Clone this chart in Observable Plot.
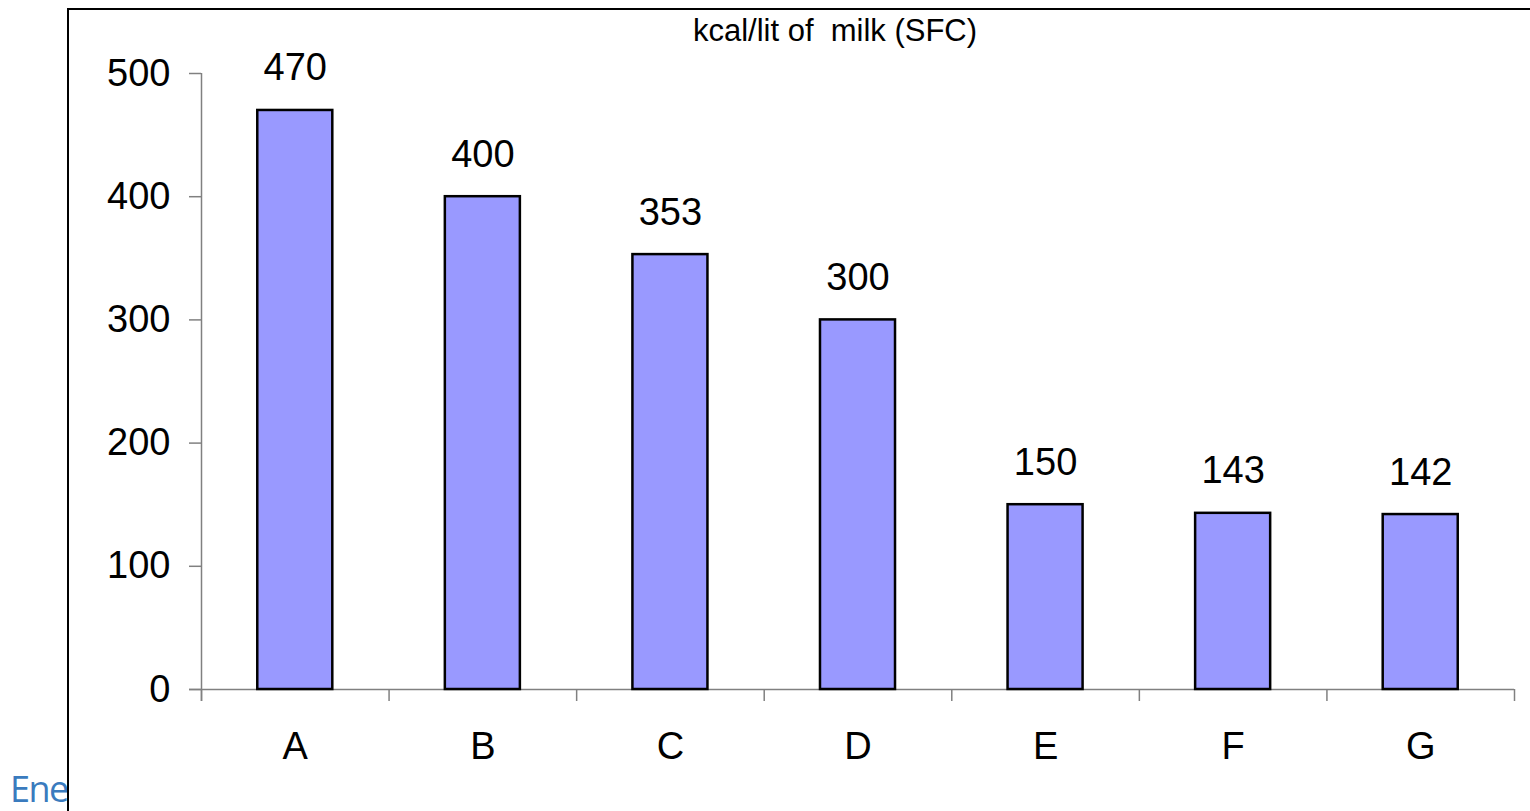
<!DOCTYPE html>
<html>
<head>
<meta charset="utf-8">
<script src="https://cdn.jsdelivr.net/npm/d3@7"></script>
<script src="https://cdn.jsdelivr.net/npm/@observablehq/plot@0.6"></script>
<style>
  html, body { margin: 0; padding: 0; background: #fff; overflow: hidden; }
  #wrap { position: relative; width: 1530px; height: 811px; font-family: "Liberation Sans", Arial, sans-serif; }
  #frame { position: absolute; left: 67px; top: 8px; width: 1470px; height: 820px; border-top: 2px solid #000; border-left: 2px solid #000; box-sizing: border-box; pointer-events: none; }
  #title { position: absolute; left: 835px; top: 13px; transform: translateX(-50%); font-size: 31px; white-space: pre; color: #000; }
  #ene { position: absolute; left: 10px; top: 764px; font-family: "Open Sans", "Noto Sans", sans-serif; font-size: 36px; color: #3A7BBE; white-space: nowrap; letter-spacing: -1.5px; }
  #chart { position: absolute; left: 0; top: 0; }
</style>
</head>
<body>
<div id="wrap">
  <div id="chart"></div>
  <div id="ene">Ene</div>
  <div id="frame"></div>
  <div id="title">kcal/lit of  milk (SFC)</div>
</div>
<script>
const categories = ["A", "B", "C", "D", "E", "F", "G"];
const values = [470, 400, 353, 300, 150, 143, 142];
const yTicks = [0, 100, 200, 300, 400, 500];

const data = categories.map((c, i) => ({cat: c, i, value: values[i]}));
const boundaries = d3.range(categories.length + 1);

const axisColor = "#808080";

const chart = Plot.plot({
  width: 1530,
  height: 811,
  marginLeft: 201,
  marginRight: 16,
  marginTop: 73,
  marginBottom: 122,
  style: {fontFamily: "'Liberation Sans', Arial, sans-serif", background: "transparent", overflow: "visible"},
  x: {type: "linear", domain: [0, categories.length], axis: null},
  y: {domain: [0, 500], axis: null},
  marks: [
    Plot.rect(data, {x1: d => d.i + 0.3, x2: d => d.i + 0.7, y1: 0, y2: "value", fill: "#9999FF"}),
    // axis lines
    Plot.ruleX([0], {y1: 500, y2: 0, stroke: axisColor, strokeWidth: 1.5, insetBottom: -12}),
    Plot.ruleY([0], {x1: 0, x2: categories.length, stroke: axisColor, strokeWidth: 1.5, insetLeft: -12}),
    // y ticks
    Plot.ruleY(yTicks, {y: d => d, x1: 0, x2: 0, insetLeft: -12, stroke: axisColor, strokeWidth: 1.5}),
    Plot.text(yTicks, {x: 0, y: d => d, text: d => String(d), textAnchor: "end", dx: -31, fontSize: 38, fill: "#000"}),
    // x boundary ticks
    Plot.ruleX(boundaries, {x: d => d, y1: 0, y2: 0, insetBottom: -12, stroke: axisColor, strokeWidth: 1.5}),
    // bar outlines on top
    Plot.rect(data, {x1: d => d.i + 0.3, x2: d => d.i + 0.7, y1: 0, y2: "value", fill: "none", stroke: "#000", strokeWidth: 2.5}),
    // category labels
    Plot.text(data, {x: d => d.i + 0.5, y: 0, text: "cat", dy: 57, fontSize: 38, fill: "#000"}),
    // value labels
    Plot.text(data, {x: d => d.i + 0.5, y: "value", text: d => String(d.value), lineAnchor: "bottom", dy: -30, fontSize: 38, fill: "#000"})
  ]
});
document.getElementById("chart").appendChild(chart);
</script>
</body>
</html>
